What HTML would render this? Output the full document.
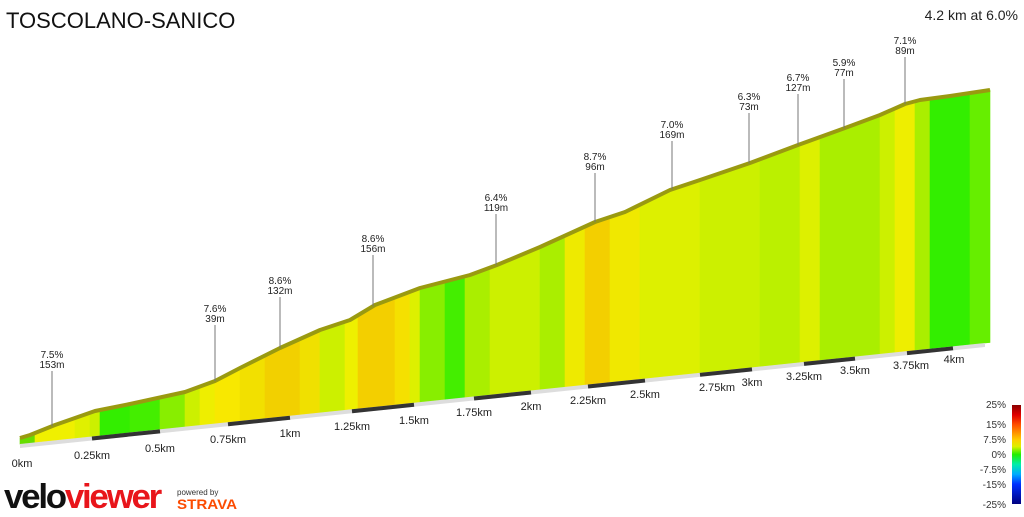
<!DOCTYPE html>
<html><head><style>
body{margin:0;background:#fff;width:1024px;height:512px;overflow:hidden;font-family:"Liberation Sans",sans-serif}
</style></head><body>
<svg id="svg" width="1024" height="512" xmlns="http://www.w3.org/2000/svg" font-family="Liberation Sans, sans-serif">
<text x="6" y="28" font-size="22" fill="#111">TOSCOLANO-SANICO</text>
<text x="1018" y="20" font-size="14" fill="#222" text-anchor="end">4.2 km at 6.0%</text>
<g id="strips"></g>
<polyline id="rim" fill="none" stroke="#9a9a10" stroke-width="4" stroke-linejoin="round"/>
<g id="base"></g>
<g id="labels" font-size="10" fill="#222" text-anchor="middle"></g>
<g id="km" font-size="11" fill="#222" text-anchor="middle"></g>
<defs><linearGradient id="leg" x1="0" y1="0" x2="0" y2="1">
<stop offset="0" stop-color="#8b0000"/><stop offset="0.1" stop-color="#e00000"/><stop offset="0.2" stop-color="#ff5000"/><stop offset="0.35" stop-color="#ffcc00"/><stop offset="0.42" stop-color="#ddf000"/><stop offset="0.5" stop-color="#22ee00"/><stop offset="0.6" stop-color="#00eeaa"/><stop offset="0.7" stop-color="#00aaff"/><stop offset="0.8" stop-color="#0030ff"/><stop offset="1" stop-color="#000080"/></linearGradient></defs>
<rect x="1012" y="405" width="9" height="99" fill="url(#leg)"/>
<g font-size="10" fill="#333" text-anchor="end">
<text x="1006" y="408">25%</text><text x="1006" y="428">15%</text><text x="1006" y="443">7.5%</text><text x="1006" y="458">0%</text><text x="1006" y="473">-7.5%</text><text x="1006" y="488">-15%</text><text x="1006" y="508">-25%</text>
</g>
<text x="4" y="508" font-size="34" font-weight="bold" letter-spacing="-2.2" fill="#111" textLength="156" lengthAdjust="spacingAndGlyphs">velo<tspan fill="#e8151b">viewer</tspan></text>
<text x="177" y="495" font-size="8" fill="#333">powered by</text>
<text x="177" y="509" font-size="14" font-weight="bold" fill="#fc4c02" textLength="60" lengthAdjust="spacingAndGlyphs">STRAVA</text>
</svg>
<script>
(function(){
var NS="http://www.w3.org/2000/svg";
function el(parent,tag,attrs,txt){var e=document.createElementNS(NS,tag);for(var k in attrs)e.setAttribute(k,attrs[k]);if(txt!==undefined)e.textContent=txt;parent.appendChild(e);return e;}
var pts=[[20,438],[30,435],[55,425],[95,411],[130,404],[185,392],[215,381],[240,368],[280,348],[320,330],[350,320],[375,305],[420,288],[470,275],[497,265],[540,247],[595,222],[625,212],[670,190],[700,180],[750,163],[798,145],[845,128],[880,115],[905,104],[920,100],[950,96],[990,90]];
function topY(x){for(var i=0;i<pts.length-1;i++){if(x<=pts[i+1][0]){var a=pts[i],b=pts[i+1];return a[1]+(b[1]-a[1])*(x-a[0])/(b[0]-a[0]);}}return 90;}
function base(x){return 444-0.1047*(x-20);}
var segs=[[20,35,"#66dd00"],[35,75,"#f0f000"],[75,90,"#e0f000"],[90,100,"#ccf000"],[100,130,"#33ee00"],[130,160,"#44ee00"],[160,185,"#88ee00"],[185,200,"#ccf000"],[200,215,"#eeee00"],[215,240,"#f8e800"],[240,265,"#f2e000"],[265,300,"#f2d000"],[300,320,"#f0e000"],[320,345,"#ccf000"],[345,358,"#eef000"],[358,395,"#f3cf00"],[395,410,"#f5e000"],[410,420,"#ddf000"],[420,445,"#88ee00"],[445,465,"#44ee00"],[465,490,"#aaee00"],[490,540,"#ccf000"],[540,565,"#aaee00"],[565,585,"#eeea00"],[585,610,"#f3cf00"],[610,640,"#f0e800"],[640,700,"#ddf000"],[700,760,"#ccf000"],[760,800,"#bbf000"],[800,820,"#ddf000"],[820,880,"#aaee00"],[880,895,"#ccf000"],[895,915,"#eeee00"],[915,930,"#aaee00"],[930,970,"#33ee00"],[970,990,"#66ee00"]];
var g=document.getElementById("strips");
segs.forEach(function(s){var p=[];for(var x=s[0];x<s[1];x+=5)p.push(x+","+topY(x));p.push(s[1]+","+topY(s[1]));p.push(s[1]+","+base(s[1]));p.push(s[0]+","+base(s[0]));
el(g,"polygon",{points:p.join(" "),fill:s[2],stroke:s[2],"stroke-width":"0.6"});});
document.getElementById("rim").setAttribute("points",pts.map(function(p){return p.join(",")}).join(" "));
var b=document.getElementById("base");
el(b,"polygon",{points:"20,"+base(20)+" 985,"+base(985)+" 985,"+(base(985)+4)+" 20,"+(base(20)+4),fill:"#ddd"});
var dk=[[92,160],[228,290],[352,414],[474,531],[588,645],[700,752],[804,855],[907,953]];
dk.forEach(function(s){el(b,"line",{x1:s[0],y1:base(s[0])+2,x2:s[1],y2:base(s[1])+2,stroke:"#333","stroke-width":"4"});});
var lab=[[52,358,"7.5%","153m"],[215,312,"7.6%","39m"],[280,284,"8.6%","132m"],[373,242,"8.6%","156m"],[496,201,"6.4%","119m"],[595,160,"8.7%","96m"],[672,128,"7.0%","169m"],[749,100,"6.3%","73m"],[798,81,"6.7%","127m"],[844,66,"5.9%","77m"],[905,44,"7.1%","89m"]];
var L=document.getElementById("labels");
lab.forEach(function(a){el(L,"text",{x:a[0],y:a[1]},a[2]);el(L,"text",{x:a[0],y:a[1]+10},a[3]);el(L,"line",{x1:a[0],y1:a[1]+13,x2:a[0],y2:topY(a[0]),stroke:"#777","stroke-width":"1"});});
var km=[[22,467,"0km"],[92,459,"0.25km"],[160,452,"0.5km"],[228,443,"0.75km"],[290,437,"1km"],[352,430,"1.25km"],[414,424,"1.5km"],[474,416,"1.75km"],[531,410,"2km"],[588,404,"2.25km"],[645,398,"2.5km"],[717,391,"2.75km"],[752,386,"3km"],[804,380,"3.25km"],[855,374,"3.5km"],[911,369,"3.75km"],[954,363,"4km"]];
var K=document.getElementById("km");
km.forEach(function(a){el(K,"text",{x:a[0],y:a[1]},a[2]);});
})();
</script>
</body></html>
